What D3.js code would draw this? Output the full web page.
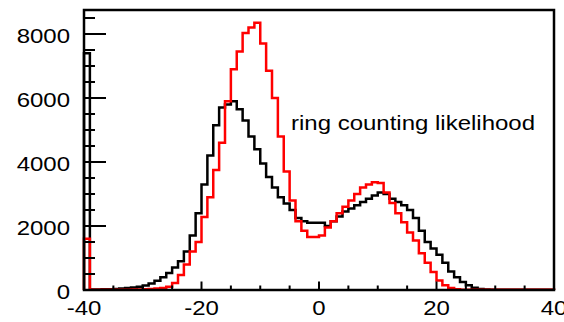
<!DOCTYPE html>
<html>
<head>
<meta charset="utf-8">
<script src="https://cdn.jsdelivr.net/npm/d3@7"></script>
<style>
  html, body { margin: 0; padding: 0; background: #fff; }
  svg { display: block; }
  text { font-family: "Liberation Sans", Arial, Helvetica, sans-serif; }
</style>
</head>
<body>
<svg id="chart" width="564" height="322"></svg>
<script>
// Histogram binning: 80 bins of width 1 between -40 and 40
const xMin = -40, xMax = 40, binWidth = 1;
const binLow = d3.range(xMin, xMax, binWidth);

// Entries per bin (first bin also collects the underflow)
const blackCounts = [
  7400, 15, 15, 20, 25, 35, 45, 60, 75, 100,
  140, 200, 290, 400, 530, 700, 900, 1200, 1700, 2400,
  3300, 4200, 5150, 5700, 5800, 5900, 5650, 5300, 4800, 4400,
  3950, 3530, 3200, 2900, 2700, 2500, 2250, 2150, 2100, 2100,
  2100, 2000, 2150, 2300, 2450, 2550, 2650, 2750, 2850, 2950,
  3050, 3000, 2850, 2750, 2650, 2500, 2250, 1850, 1500, 1300,
  1100, 850, 580, 400, 250, 150, 70, 30, 15, 10,
  10, 10, 10, 10, 10, 10, 10, 10, 10, 10
];
const redCounts = [
  1600, 5, 5, 5, 5, 5, 8, 10, 12, 15,
  20, 30, 45, 60, 100, 220, 470, 800, 1200, 1500,
  2280, 2900, 3750, 4600, 5900, 6900, 7450, 8030, 8200, 8350,
  7700, 6850, 6000, 4800, 3700, 2800, 2150, 1850, 1660, 1660,
  1700, 1950, 2150, 2400, 2600, 2800, 3000, 3200, 3300, 3370,
  3340, 3050, 2720, 2400, 2120, 1800, 1550, 1150, 850, 560,
  300, 150, 60, 20, 5, 5, 5, 5, 5, 5,
  5, 5, 5, 5, 5, 5, 5, 5, 5, 5
];

const xMajorTicks = [-40, -20, 0, 20, 40];
const xMinorTicks = d3.range(-40, 40.01, 5);
const yMajorTicks = [0, 2000, 4000, 6000, 8000];
const yMinorTicks = d3.range(0, 8501, 500);
const yMax = 8750;
const labelText = "ring counting likelihood";

const svg = d3.select("#chart");
const frame = { left: 84, right: 554, top: 10, bottom: 290 };
const x = d3.scaleLinear().domain([xMin, xMax]).range([frame.left, frame.right]);
const y = d3.scaleLinear().domain([0, yMax]).range([frame.bottom, frame.top]);
const stretch = 1.2; // horizontal glyph stretch
const fontSize = 20;

// step outline of one histogram
function histPoints(counts) {
  const pts = [[xMin, 0]];
  binLow.forEach((lo, i) => pts.push([lo, counts[i]]));
  pts.push([xMax, counts[counts.length - 1]]);
  pts.push([xMax, 0]);
  return pts;
}
const step = d3.line().x(d => x(d[0])).y(d => y(d[1])).curve(d3.curveStepAfter);

svg.append("path")
  .attr("d", step(histPoints(blackCounts)))
  .attr("fill", "none").attr("stroke", "#000").attr("stroke-width", 2.5);
svg.append("path")
  .attr("d", step(histPoints(redCounts)))
  .attr("fill", "none").attr("stroke", "#ff0000").attr("stroke-width", 2.5);

// frame
svg.append("rect")
  .attr("x", frame.left).attr("y", frame.top)
  .attr("width", frame.right - frame.left).attr("height", frame.bottom - frame.top)
  .attr("fill", "none").attr("stroke", "#000").attr("stroke-width", 2.5);

// x ticks (drawn inward from the bottom edge)
const ticks = svg.append("g").attr("stroke", "#000").attr("stroke-width", 2);
xMinorTicks.forEach(v => {
  const major = xMajorTicks.includes(v);
  ticks.append("line")
    .attr("x1", x(v)).attr("x2", x(v))
    .attr("y1", frame.bottom).attr("y2", frame.bottom - (major ? 8.5 : 4.5));
});
// y ticks (drawn inward from the left edge)
yMinorTicks.forEach(v => {
  const major = yMajorTicks.includes(v);
  ticks.append("line")
    .attr("x1", frame.left).attr("x2", frame.left + (major ? 22 : 11))
    .attr("y1", y(v)).attr("y2", y(v));
});

function stretchedText(px, py, str, anchor) {
  svg.append("g")
    .attr("transform", `translate(${px},${py}) scale(${stretch},1)`)
    .append("text")
    .attr("text-anchor", anchor)
    .attr("font-size", fontSize)
    .attr("fill", "#000")
    .text(str);
}

xMajorTicks.forEach(v => stretchedText(x(v), 315, String(v), "middle"));
yMajorTicks.forEach(v => stretchedText(70, y(v) + 9, String(v), "end"));

stretchedText(291, 129.5, labelText, "start");
</script>
</body>
</html>
